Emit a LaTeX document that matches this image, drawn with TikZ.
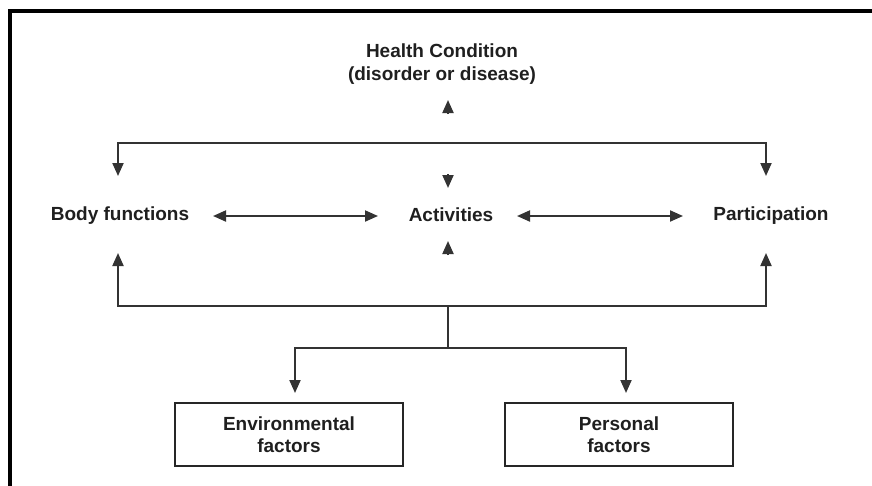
\documentclass[tikz,border=0pt]{standalone}
\usepackage{fontspec}
\setmainfont{Liberation Sans}
\usetikzlibrary{arrows.meta,calc}
\begin{document}
\begin{tikzpicture}[x=1pt,y=-1pt,
  lbl/.style={font=\fontsize{19}{23}\selectfont\bfseries, text=black!88, inner sep=0pt, align=center},
  conn/.style={line width=2pt, draw=black!80},
  tip/.style={Triangle[length=13pt,width=11pt]},
  arr/.style={conn, -{Triangle[length=13pt,width=11pt]}},
  dbl/.style={conn, {Triangle[length=13pt,width=11pt]}-{Triangle[length=13pt,width=11pt]}},
  fbox/.style={draw=black!85, line width=2pt, minimum width=228pt, minimum height=63pt,
    inner sep=0pt, align=center, font=\fontsize{19}{22}\selectfont\bfseries, text=black!88}]
\useasboundingbox (0,0) rectangle (872,485);
\draw[line width=4pt, line join=miter] (10,490) -- (10,11) -- (875,11);

\node[lbl] (hc) at (442,64) {Health Condition\\(disorder or disease)};
\node[lbl] (bf) at (120,216) {Body functions};
\node[lbl] (act) at (451,215) {Activities};
\node[lbl] (par) at (771,216) {Participation};
\node[fbox] (env) at (289,434.5) {Environmental\\factors};
\node[fbox] (pers) at (619,434.5) {Personal\\factors};

% top bar
\coordinate (bfin) at (118,176);
\coordinate (parin) at (766,176);
\coordinate (tl) at (118,143);
\coordinate (tr) at (766,143);
\draw[dbl] (bfin) -- (tl) -- (tr) -- (parin);

% bottom bar
\coordinate (bfout) at (118,253);
\coordinate (parout) at (766,253);
\coordinate (bl) at (118,306);
\coordinate (br) at (766,306);
\draw[dbl] (bfout) -- (bl) -- (br) -- (parout);

% stem to factors
\coordinate (stemtop) at (448,306);
\coordinate (stembot) at (448,348);
\coordinate (jl) at (295,348);
\coordinate (jr) at (626,348);
\coordinate (envin) at (295,393);
\coordinate (persin) at (626,393);
\draw[conn] (stemtop) -- (stembot);
\draw[dbl] (envin) -- (jl) -- (jr) -- (persin);

% horizontal double arrows
\coordinate (a1) at (213,216);
\coordinate (a2) at (378,216);
\coordinate (a3) at (517,216);
\coordinate (a4) at (683,216);
\draw[dbl] (a1) -- (a2);
\draw[dbl] (a3) -- (a4);

% small arrowheads near health condition and activities
\coordinate (h1s) at (448,114);
\coordinate (h1t) at (448,100);
\coordinate (h2s) at (448,174);
\coordinate (h2t) at (448,188);
\coordinate (h3s) at (448,255);
\coordinate (h3t) at (448,241);
\draw[arr] (h1s) -- (h1t);
\draw[arr] (h2s) -- (h2t);
\draw[arr] (h3s) -- (h3t);
\end{tikzpicture}
\end{document}
